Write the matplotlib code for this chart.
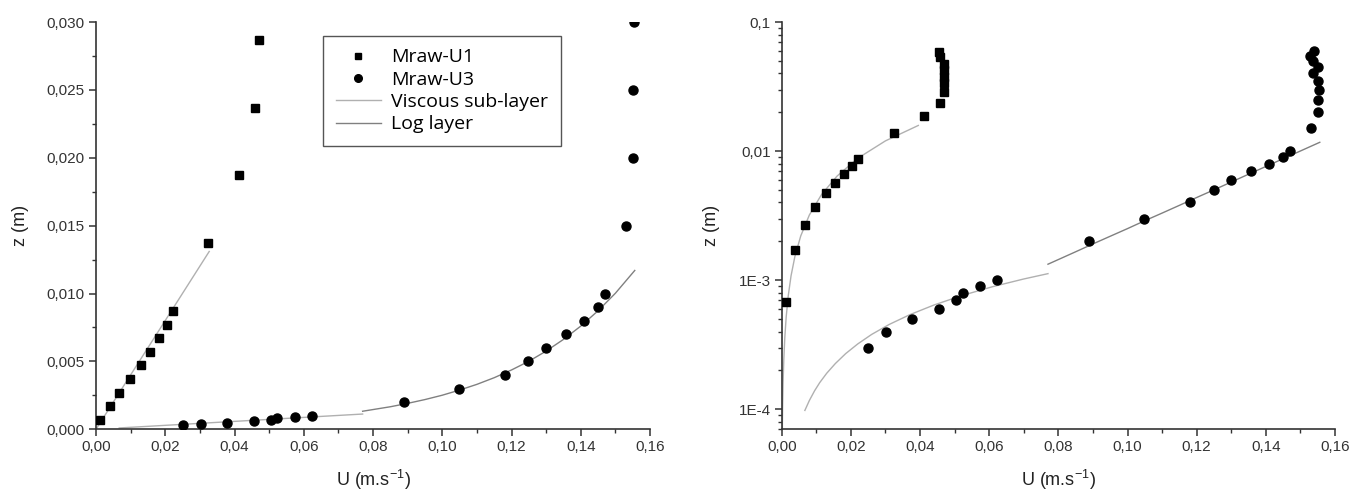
import matplotlib
matplotlib.use("Agg")
import matplotlib.pyplot as plt
from matplotlib.ticker import FuncFormatter, MultipleLocator, LogLocator, FixedLocator, NullFormatter
from matplotlib.lines import Line2D

plt.rcParams['font.family'] = ['Liberation Sans', 'DejaVu Sans']
plt.rcParams['mathtext.fontset'] = 'custom'
plt.rcParams['mathtext.rm'] = 'Liberation Sans'

# ---- data ----
u1_U = [0.0012, 0.0039, 0.0066, 0.0097, 0.0129, 0.0155, 0.0181, 0.0204, 0.0222, 0.0324,
        0.0412, 0.0458, 0.0470, 0.0470, 0.0470, 0.0470, 0.0468, 0.0458, 0.0456]
u1_z = [0.00068, 0.0017, 0.0027, 0.0037, 0.0047, 0.0057, 0.0067, 0.0077, 0.0087, 0.0137,
        0.0187, 0.0237, 0.0287, 0.0334, 0.0376, 0.0424, 0.0477, 0.0540, 0.0587]

u3_U = [0.0250, 0.0303, 0.0378, 0.0455, 0.0505, 0.0523, 0.0574, 0.0624, 0.0889, 0.1049,
        0.1180, 0.1249, 0.1299, 0.1358, 0.1409, 0.1450, 0.1471, 0.1530, 0.1550, 0.1550,
        0.1555, 0.1550, 0.1535, 0.1550, 0.1537, 0.1529, 0.1539]
u3_z = [0.0003, 0.0004, 0.0005, 0.0006, 0.0007, 0.0008, 0.0009, 0.0010, 0.002, 0.003,
        0.004, 0.005, 0.006, 0.007, 0.008, 0.009, 0.010, 0.015, 0.020, 0.025,
        0.030, 0.035, 0.040, 0.045, 0.050, 0.055, 0.060]

# viscous sub-layer fit for U1 (left panel / right panel extents)
visc1_left_U = [0.0, 0.0327]
visc1_left_z = [0.0, 0.0131]
visc1_right_U = [0.00018, 0.00025, 0.0004, 0.0006, 0.0009, 0.0013, 0.0019, 0.0027, 0.0038,
                 0.0055, 0.0080, 0.0115, 0.0160, 0.0220, 0.0300, 0.0395]
visc1_right_z = [0.00007, 0.0001, 0.00016, 0.00024, 0.00036, 0.00052, 0.00076, 0.00108, 0.00152,
                 0.0022, 0.0032, 0.0046, 0.0064, 0.0088, 0.0120, 0.0158]

# viscous sub-layer fit for U3
visc3_U = [0.0067, 0.0080, 0.0095, 0.0110, 0.0130, 0.0155, 0.0185, 0.0220, 0.0260, 0.0310,
           0.0370, 0.0440, 0.0520, 0.0610, 0.0700, 0.0770]
visc3_z = [0.000098, 0.000117, 0.000139, 0.000161, 0.000190, 0.000226, 0.000270, 0.000321,
           0.000380, 0.000453, 0.000540, 0.000642, 0.000759, 0.000891, 0.001022, 0.001124]

# log layer fit for U3
log3_U = [0.0770, 0.0850, 0.0900, 0.0950, 0.1000, 0.1050, 0.1100, 0.1150, 0.1200, 0.1250,
          0.1300, 0.1350, 0.1400, 0.1450, 0.1500, 0.1556]
log3_z = [0.00133, 0.00166, 0.00191, 0.00219, 0.00251, 0.00289, 0.00331, 0.00380, 0.00437,
          0.00501, 0.00576, 0.00662, 0.00760, 0.00873, 0.01002, 0.0117]

x_ticks = [0.00, 0.02, 0.04, 0.06, 0.08, 0.10, 0.12, 0.14, 0.16]
y_ticks_lin = [0.000, 0.005, 0.010, 0.015, 0.020, 0.025, 0.030]
y_ticks_log = [1e-4, 1e-3, 1e-2, 1e-1]
y_labels_log = ['1E-4', '1E-3', '0,01', '0,1']

visc_color = '#b0b0b0'
log_color = '#808080'
axis_color = '#333333'

fig = plt.figure(figsize=(13.51, 4.94), dpi=100)
axL = fig.add_axes([96/1351, (494-429.3)/494, (650-96)/1351, (429.3-22)/494])
axR = fig.add_axes([781.7/1351, (494-429.3)/494, (1335-781.7)/1351, (429.3-22)/494])

def style(ax):
    for s in ['top', 'right']:
        ax.spines[s].set_visible(False)
    for s in ['left', 'bottom']:
        ax.spines[s].set_color(axis_color)
        ax.spines[s].set_linewidth(1.2)
    ax.tick_params(which='major', direction='out', length=5, width=1.1, color=axis_color,
                   labelsize=11, labelcolor='#333333', pad=3)
    ax.tick_params(which='minor', direction='out', length=3, width=1.0, color=axis_color)
    ax.set_xlim(0, 0.16)
    ax.xaxis.set_major_locator(FixedLocator(x_ticks))
    ax.xaxis.set_minor_locator(MultipleLocator(0.01))
    ax.xaxis.set_major_formatter(FuncFormatter(lambda v, p: f"{v:.2f}".replace('.', ',')))
    ax.set_xlabel(r'U (m.s$^{\mathregular{-1}}$)', fontsize=13, color='#222222', labelpad=10)
    ax.set_ylabel('z (m)', fontsize=13, color='#222222', labelpad=13)

# ---- left panel ----
style(axL)
axL.plot(visc1_left_U, visc1_left_z, color=visc_color, lw=1.0, zorder=2)
axL.plot(visc3_U, visc3_z, color=visc_color, lw=1.0, zorder=2)
axL.plot(log3_U, log3_z, color=log_color, lw=1.0, zorder=2)
axL.plot(u1_U, u1_z, 's', color='black', ms=6, ls='none', zorder=3)
axL.plot(u3_U, u3_z, 'o', color='black', ms=6.5, ls='none', zorder=3)
axL.set_ylim(0, 0.030)
axL.yaxis.set_major_locator(FixedLocator(y_ticks_lin))
axL.yaxis.set_minor_locator(MultipleLocator(0.0025))
axL.yaxis.set_major_formatter(FuncFormatter(lambda v, p: f"{v:.3f}".replace('.', ',')))

handles = [
    Line2D([], [], marker='s', color='black', ls='none', ms=5),
    Line2D([], [], marker='o', color='black', ls='none', ms=5.5),
    Line2D([], [], color=visc_color, lw=1.0),
    Line2D([], [], color=log_color, lw=1.0),
]
labels = ['Mraw-U1', 'Mraw-U3', 'Viscous sub-layer', 'Log layer']
leg = axL.legend(handles, labels, loc='upper left', bbox_to_anchor=(0.41, 0.966),
                 frameon=True, fancybox=False, edgecolor='#555555', framealpha=1,
                 prop={'family': ['Open Sans', 'DejaVu Sans'], 'size': 14},
                 handlelength=2.3, handletextpad=0.55, labelspacing=0.22,
                 borderpad=0.65, borderaxespad=0)
leg.get_frame().set_linewidth(1.0)

# ---- right panel ----
style(axR)
axR.set_yscale('log')
axR.plot(visc1_right_U, visc1_right_z, color=visc_color, lw=1.0, zorder=2)
axR.plot(visc3_U, visc3_z, color=visc_color, lw=1.0, zorder=2)
axR.plot(log3_U, log3_z, color=log_color, lw=1.0, zorder=2)
axR.plot(u1_U, u1_z, 's', color='black', ms=6, ls='none', zorder=3)
axR.plot(u3_U, u3_z, 'o', color='black', ms=6.5, ls='none', zorder=3)
axR.set_ylim(7e-5, 0.1)
axR.yaxis.set_major_locator(FixedLocator(y_ticks_log))
axR.yaxis.set_major_formatter(FuncFormatter(lambda v, p: dict(zip(y_ticks_log, y_labels_log)).get(v, '')))
axR.yaxis.set_minor_locator(LogLocator(base=10, subs=range(2, 10), numticks=20))
axR.yaxis.set_minor_formatter(NullFormatter())

fig.savefig('out.png', dpi=100)
